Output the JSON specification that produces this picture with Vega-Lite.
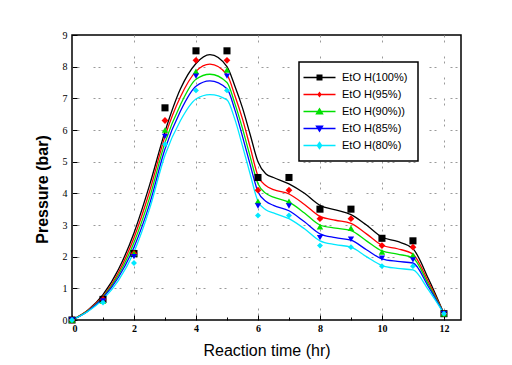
{
  "$schema": "https://vega.github.io/schema/vega-lite/v6.json",
  "width": 389,
  "height": 285,
  "autosize": {"type": "none"},
  "padding": {"left": 72, "top": 35, "right": 51, "bottom": 45},
  "background": "#ffffff",
  "config": {
    "view": {"stroke": "#000000", "strokeWidth": 1.5},
    "font": "Liberation Sans"
  },
  "datasets": {
    "pts": [
      {"s": "EtO H(100%)", "m": "square", "t": 0, "p": 0}, {"s": "EtO H(100%)", "m": "square", "t": 1, "p": 0.65}, {"s": "EtO H(100%)", "m": "square", "t": 2, "p": 2.1}, {"s": "EtO H(100%)", "m": "square", "t": 3, "p": 6.7}, {"s": "EtO H(100%)", "m": "square", "t": 4, "p": 8.5}, {"s": "EtO H(100%)", "m": "square", "t": 5, "p": 8.5}, {"s": "EtO H(100%)", "m": "square", "t": 6, "p": 4.5}, {"s": "EtO H(100%)", "m": "square", "t": 7, "p": 4.5}, {"s": "EtO H(100%)", "m": "square", "t": 8, "p": 3.5}, {"s": "EtO H(100%)", "m": "square", "t": 9, "p": 3.5}, {"s": "EtO H(100%)", "m": "square", "t": 10, "p": 2.58}, {"s": "EtO H(100%)", "m": "square", "t": 11, "p": 2.5}, {"s": "EtO H(100%)", "m": "square", "t": 12, "p": 0.2},
      {"s": "EtO H(95%)", "m": "small diamond", "t": 0, "p": 0}, {"s": "EtO H(95%)", "m": "small diamond", "t": 1, "p": 0.65}, {"s": "EtO H(95%)", "m": "small diamond", "t": 2, "p": 2.1}, {"s": "EtO H(95%)", "m": "small diamond", "t": 3, "p": 6.3}, {"s": "EtO H(95%)", "m": "small diamond", "t": 4, "p": 8.2}, {"s": "EtO H(95%)", "m": "small diamond", "t": 5, "p": 8.2}, {"s": "EtO H(95%)", "m": "small diamond", "t": 6, "p": 4.1}, {"s": "EtO H(95%)", "m": "small diamond", "t": 7, "p": 4.1}, {"s": "EtO H(95%)", "m": "small diamond", "t": 8, "p": 3.2}, {"s": "EtO H(95%)", "m": "small diamond", "t": 9, "p": 3.2}, {"s": "EtO H(95%)", "m": "small diamond", "t": 10, "p": 2.35}, {"s": "EtO H(95%)", "m": "small diamond", "t": 11, "p": 2.3}, {"s": "EtO H(95%)", "m": "small diamond", "t": 12, "p": 0.2},
      {"s": "EtO H(90%))", "m": "up triangle", "t": 0, "p": 0}, {"s": "EtO H(90%))", "m": "up triangle", "t": 1, "p": 0.6}, {"s": "EtO H(90%))", "m": "up triangle", "t": 2, "p": 2.1}, {"s": "EtO H(90%))", "m": "up triangle", "t": 3, "p": 6.0}, {"s": "EtO H(90%))", "m": "up triangle", "t": 4, "p": 7.85}, {"s": "EtO H(90%))", "m": "up triangle", "t": 5, "p": 7.9}, {"s": "EtO H(90%))", "m": "up triangle", "t": 6, "p": 3.75}, {"s": "EtO H(90%))", "m": "up triangle", "t": 7, "p": 3.75}, {"s": "EtO H(90%))", "m": "up triangle", "t": 8, "p": 2.95}, {"s": "EtO H(90%))", "m": "up triangle", "t": 9, "p": 2.9}, {"s": "EtO H(90%))", "m": "up triangle", "t": 10, "p": 2.15}, {"s": "EtO H(90%))", "m": "up triangle", "t": 11, "p": 2.05}, {"s": "EtO H(90%))", "m": "up triangle", "t": 12, "p": 0.2},
      {"s": "EtO H(85%)", "m": "down triangle", "t": 0, "p": 0}, {"s": "EtO H(85%)", "m": "down triangle", "t": 1, "p": 0.6}, {"s": "EtO H(85%)", "m": "down triangle", "t": 2, "p": 2.0}, {"s": "EtO H(85%)", "m": "down triangle", "t": 3, "p": 5.8}, {"s": "EtO H(85%)", "m": "down triangle", "t": 4, "p": 7.7}, {"s": "EtO H(85%)", "m": "down triangle", "t": 5, "p": 7.7}, {"s": "EtO H(85%)", "m": "down triangle", "t": 6, "p": 3.6}, {"s": "EtO H(85%)", "m": "down triangle", "t": 7, "p": 3.6}, {"s": "EtO H(85%)", "m": "down triangle", "t": 8, "p": 2.6}, {"s": "EtO H(85%)", "m": "down triangle", "t": 9, "p": 2.55}, {"s": "EtO H(85%)", "m": "down triangle", "t": 10, "p": 1.95}, {"s": "EtO H(85%)", "m": "down triangle", "t": 11, "p": 1.9}, {"s": "EtO H(85%)", "m": "down triangle", "t": 12, "p": 0.2},
      {"s": "EtO H(80%)", "m": "diamond", "t": 0, "p": 0}, {"s": "EtO H(80%)", "m": "diamond", "t": 1, "p": 0.55}, {"s": "EtO H(80%)", "m": "diamond", "t": 2, "p": 1.8}, {"s": "EtO H(80%)", "m": "diamond", "t": 3, "p": 5.55}, {"s": "EtO H(80%)", "m": "diamond", "t": 4, "p": 7.25}, {"s": "EtO H(80%)", "m": "diamond", "t": 5, "p": 7.25}, {"s": "EtO H(80%)", "m": "diamond", "t": 6, "p": 3.3}, {"s": "EtO H(80%)", "m": "diamond", "t": 7, "p": 3.3}, {"s": "EtO H(80%)", "m": "diamond", "t": 8, "p": 2.35}, {"s": "EtO H(80%)", "m": "diamond", "t": 9, "p": 2.3}, {"s": "EtO H(80%)", "m": "diamond", "t": 10, "p": 1.7}, {"s": "EtO H(80%)", "m": "diamond", "t": 11, "p": 1.7}, {"s": "EtO H(80%)", "m": "diamond", "t": 12, "p": 0.2}
    ],
    "curve": [
      {"s": "EtO H(100%)", "t": 0, "p": 0}, {"s": "EtO H(100%)", "t": 0.5, "p": 0.3}, {"s": "EtO H(100%)", "t": 1, "p": 0.8}, {"s": "EtO H(100%)", "t": 1.5, "p": 1.6}, {"s": "EtO H(100%)", "t": 2, "p": 2.75}, {"s": "EtO H(100%)", "t": 2.5, "p": 4.25}, {"s": "EtO H(100%)", "t": 3, "p": 5.95}, {"s": "EtO H(100%)", "t": 3.5, "p": 7.3}, {"s": "EtO H(100%)", "t": 4, "p": 8.1}, {"s": "EtO H(100%)", "t": 4.45, "p": 8.38}, {"s": "EtO H(100%)", "t": 5, "p": 8.0}, {"s": "EtO H(100%)", "t": 5.25, "p": 7.4}, {"s": "EtO H(100%)", "t": 5.5, "p": 6.7}, {"s": "EtO H(100%)", "t": 5.75, "p": 5.85}, {"s": "EtO H(100%)", "t": 6, "p": 5.0}, {"s": "EtO H(100%)", "t": 6.25, "p": 4.62}, {"s": "EtO H(100%)", "t": 6.5, "p": 4.5}, {"s": "EtO H(100%)", "t": 7, "p": 4.3}, {"s": "EtO H(100%)", "t": 7.5, "p": 4.0}, {"s": "EtO H(100%)", "t": 8, "p": 3.62}, {"s": "EtO H(100%)", "t": 8.5, "p": 3.48}, {"s": "EtO H(100%)", "t": 9, "p": 3.33}, {"s": "EtO H(100%)", "t": 9.5, "p": 3.0}, {"s": "EtO H(100%)", "t": 10, "p": 2.62}, {"s": "EtO H(100%)", "t": 10.5, "p": 2.48}, {"s": "EtO H(100%)", "t": 11, "p": 2.25}, {"s": "EtO H(100%)", "t": 11.5, "p": 1.3}, {"s": "EtO H(100%)", "t": 12, "p": 0.2},
      {"s": "EtO H(95%)", "t": 0, "p": 0}, {"s": "EtO H(95%)", "t": 0.5, "p": 0.3}, {"s": "EtO H(95%)", "t": 1, "p": 0.75}, {"s": "EtO H(95%)", "t": 1.5, "p": 1.5}, {"s": "EtO H(95%)", "t": 2, "p": 2.6}, {"s": "EtO H(95%)", "t": 2.5, "p": 4.05}, {"s": "EtO H(95%)", "t": 3, "p": 5.8}, {"s": "EtO H(95%)", "t": 3.5, "p": 7.05}, {"s": "EtO H(95%)", "t": 4, "p": 7.85}, {"s": "EtO H(95%)", "t": 4.45, "p": 8.08}, {"s": "EtO H(95%)", "t": 5, "p": 7.75}, {"s": "EtO H(95%)", "t": 5.25, "p": 7.1}, {"s": "EtO H(95%)", "t": 5.5, "p": 6.35}, {"s": "EtO H(95%)", "t": 5.75, "p": 5.45}, {"s": "EtO H(95%)", "t": 6, "p": 4.55}, {"s": "EtO H(95%)", "t": 6.25, "p": 4.25}, {"s": "EtO H(95%)", "t": 6.5, "p": 4.12}, {"s": "EtO H(95%)", "t": 7, "p": 3.98}, {"s": "EtO H(95%)", "t": 7.5, "p": 3.65}, {"s": "EtO H(95%)", "t": 8, "p": 3.27}, {"s": "EtO H(95%)", "t": 8.5, "p": 3.15}, {"s": "EtO H(95%)", "t": 9, "p": 3.05}, {"s": "EtO H(95%)", "t": 9.5, "p": 2.72}, {"s": "EtO H(95%)", "t": 10, "p": 2.36}, {"s": "EtO H(95%)", "t": 10.5, "p": 2.25}, {"s": "EtO H(95%)", "t": 11, "p": 2.08}, {"s": "EtO H(95%)", "t": 11.5, "p": 1.2}, {"s": "EtO H(95%)", "t": 12, "p": 0.2},
      {"s": "EtO H(90%))", "t": 0, "p": 0}, {"s": "EtO H(90%))", "t": 0.5, "p": 0.28}, {"s": "EtO H(90%))", "t": 1, "p": 0.72}, {"s": "EtO H(90%))", "t": 1.5, "p": 1.42}, {"s": "EtO H(90%))", "t": 2, "p": 2.45}, {"s": "EtO H(90%))", "t": 2.5, "p": 3.85}, {"s": "EtO H(90%))", "t": 3, "p": 5.6}, {"s": "EtO H(90%))", "t": 3.5, "p": 6.8}, {"s": "EtO H(90%))", "t": 4, "p": 7.6}, {"s": "EtO H(90%))", "t": 4.45, "p": 7.76}, {"s": "EtO H(90%))", "t": 5, "p": 7.5}, {"s": "EtO H(90%))", "t": 5.25, "p": 6.85}, {"s": "EtO H(90%))", "t": 5.5, "p": 6.05}, {"s": "EtO H(90%))", "t": 5.75, "p": 5.15}, {"s": "EtO H(90%))", "t": 6, "p": 4.3}, {"s": "EtO H(90%))", "t": 6.25, "p": 4.0}, {"s": "EtO H(90%))", "t": 6.5, "p": 3.88}, {"s": "EtO H(90%))", "t": 7, "p": 3.72}, {"s": "EtO H(90%))", "t": 7.5, "p": 3.38}, {"s": "EtO H(90%))", "t": 8, "p": 3.0}, {"s": "EtO H(90%))", "t": 8.5, "p": 2.9}, {"s": "EtO H(90%))", "t": 9, "p": 2.82}, {"s": "EtO H(90%))", "t": 9.5, "p": 2.5}, {"s": "EtO H(90%))", "t": 10, "p": 2.18}, {"s": "EtO H(90%))", "t": 10.5, "p": 2.08}, {"s": "EtO H(90%))", "t": 11, "p": 1.96}, {"s": "EtO H(90%))", "t": 11.5, "p": 1.12}, {"s": "EtO H(90%))", "t": 12, "p": 0.2},
      {"s": "EtO H(85%)", "t": 0, "p": 0}, {"s": "EtO H(85%)", "t": 0.5, "p": 0.27}, {"s": "EtO H(85%)", "t": 1, "p": 0.7}, {"s": "EtO H(85%)", "t": 1.5, "p": 1.35}, {"s": "EtO H(85%)", "t": 2, "p": 2.3}, {"s": "EtO H(85%)", "t": 2.5, "p": 3.65}, {"s": "EtO H(85%)", "t": 3, "p": 5.4}, {"s": "EtO H(85%)", "t": 3.5, "p": 6.6}, {"s": "EtO H(85%)", "t": 4, "p": 7.38}, {"s": "EtO H(85%)", "t": 4.45, "p": 7.55}, {"s": "EtO H(85%)", "t": 5, "p": 7.3}, {"s": "EtO H(85%)", "t": 5.25, "p": 6.65}, {"s": "EtO H(85%)", "t": 5.5, "p": 5.8}, {"s": "EtO H(85%)", "t": 5.75, "p": 4.9}, {"s": "EtO H(85%)", "t": 6, "p": 4.05}, {"s": "EtO H(85%)", "t": 6.25, "p": 3.75}, {"s": "EtO H(85%)", "t": 6.5, "p": 3.62}, {"s": "EtO H(85%)", "t": 7, "p": 3.45}, {"s": "EtO H(85%)", "t": 7.5, "p": 3.1}, {"s": "EtO H(85%)", "t": 8, "p": 2.72}, {"s": "EtO H(85%)", "t": 8.5, "p": 2.6}, {"s": "EtO H(85%)", "t": 9, "p": 2.52}, {"s": "EtO H(85%)", "t": 9.5, "p": 2.22}, {"s": "EtO H(85%)", "t": 10, "p": 1.93}, {"s": "EtO H(85%)", "t": 10.5, "p": 1.85}, {"s": "EtO H(85%)", "t": 11, "p": 1.8}, {"s": "EtO H(85%)", "t": 11.5, "p": 1.05}, {"s": "EtO H(85%)", "t": 12, "p": 0.2},
      {"s": "EtO H(80%)", "t": 0, "p": 0}, {"s": "EtO H(80%)", "t": 0.5, "p": 0.26}, {"s": "EtO H(80%)", "t": 1, "p": 0.65}, {"s": "EtO H(80%)", "t": 1.5, "p": 1.25}, {"s": "EtO H(80%)", "t": 2, "p": 2.15}, {"s": "EtO H(80%)", "t": 2.5, "p": 3.5}, {"s": "EtO H(80%)", "t": 3, "p": 5.2}, {"s": "EtO H(80%)", "t": 3.5, "p": 6.3}, {"s": "EtO H(80%)", "t": 4, "p": 6.98}, {"s": "EtO H(80%)", "t": 4.45, "p": 7.12}, {"s": "EtO H(80%)", "t": 5, "p": 6.95}, {"s": "EtO H(80%)", "t": 5.25, "p": 6.35}, {"s": "EtO H(80%)", "t": 5.5, "p": 5.5}, {"s": "EtO H(80%)", "t": 5.75, "p": 4.6}, {"s": "EtO H(80%)", "t": 6, "p": 3.75}, {"s": "EtO H(80%)", "t": 6.25, "p": 3.48}, {"s": "EtO H(80%)", "t": 6.5, "p": 3.38}, {"s": "EtO H(80%)", "t": 7, "p": 3.2}, {"s": "EtO H(80%)", "t": 7.5, "p": 2.88}, {"s": "EtO H(80%)", "t": 8, "p": 2.5}, {"s": "EtO H(80%)", "t": 8.5, "p": 2.38}, {"s": "EtO H(80%)", "t": 9, "p": 2.3}, {"s": "EtO H(80%)", "t": 9.5, "p": 2.0}, {"s": "EtO H(80%)", "t": 10, "p": 1.72}, {"s": "EtO H(80%)", "t": 10.5, "p": 1.63}, {"s": "EtO H(80%)", "t": 11, "p": 1.58}, {"s": "EtO H(80%)", "t": 11.5, "p": 0.95}, {"s": "EtO H(80%)", "t": 12, "p": 0.2}
    ]
  },
  "encoding": {
    "x": {
      "field": "t", "type": "quantitative",
      "scale": {"domain": [0, 12.55], "nice": false, "zero": false},
      "axis": {
        "title": "Reaction time (hr)",
        "values": [0, 1, 2, 3, 4, 5, 6, 7, 8, 9, 10, 11, 12],
        "format": "d",
        "labelExpr": "datum.value % 2 === 0 ? datum.label : ''",
        "domain": false,
        "grid": true,
        "gridColor": "#9a9a9a",
        "gridDash": [2, 3, 2, 14],
        "gridOpacity": {"condition": {"test": "datum.value % 2 === 1 || datum.value === 0", "value": 0}, "value": 1},
        "tickColor": "#000000",
        "tickSize": {"condition": {"test": "datum.value % 2 === 1", "value": -3}, "value": -5},
        "labelFont": "Liberation Serif", "labelFontWeight": "bold", "labelFontSize": 10, "labelColor": "#000000",
        "labelPadding": 8,
        "titleFont": "Liberation Sans", "titleFontSize": 16, "titleFontWeight": "normal", "titleColor": "#000000",
        "titlePadding": 9
      }
    },
    "y": {
      "field": "p", "type": "quantitative",
      "scale": {"domain": [0, 9], "nice": false},
      "axis": {
        "title": "Pressure (bar)",
        "values": [0, 0.5, 1, 1.5, 2, 2.5, 3, 3.5, 4, 4.5, 5, 5.5, 6, 6.5, 7, 7.5, 8, 8.5, 9],
        "format": "d",
        "labelExpr": "datum.value % 1 === 0 ? datum.label : ''",
        "domain": false,
        "grid": true,
        "gridColor": "#9a9a9a",
        "gridDash": [2, 3, 2, 14],
        "gridOpacity": {"condition": {"test": "datum.value % 1 !== 0 || datum.value === 0 || datum.value === 9", "value": 0}, "value": 1},
        "tickColor": "#000000",
        "tickSize": {"condition": {"test": "datum.value % 1 !== 0", "value": -3}, "value": -5},
        "labelFont": "Liberation Serif", "labelFontWeight": "normal", "labelFontSize": 10, "labelColor": "#000000",
        "labelPadding": 10,
        "titleFont": "Liberation Sans", "titleFontSize": 16, "titleFontWeight": "bold", "titleColor": "#000000",
        "titleX": -30, "titleY": 154, "titleBaseline": "middle", "titleAlign": "center"
      }
    },
    "color": {
      "field": "s", "type": "nominal",
      "scale": {
        "domain": ["EtO H(100%)", "EtO H(95%)", "EtO H(90%))", "EtO H(85%)", "EtO H(80%)"],
        "range": ["#000000", "#ff0000", "#00e000", "#0000ff", "#00e8ff"]
      },
      "legend": {
        "title": null,
        "orient": "none",
        "legendX": 227,
        "legendY": 27,
        "padding": 10,
        "symbolOffset": 5,
        "rowPadding": 5,
        "labelFont": "Liberation Sans",
        "labelFontSize": 11,
        "labelColor": "#000000",
        "labelOffset": 17,
        "symbolSize": 100,
        "symbolStrokeWidth": 0,
        "encode": {
          "legend": {"update": {"stroke": {"value": "#000000"}, "strokeWidth": {"value": 1.5}, "fill": {"value": "#ffffff"}}},
          "symbols": {"update": {
            "shape": {"signal": "datum.value === 'EtO H(100%)' ? 'M-3.2,-0.13H3.2V0.13H-3.2Z M-0.6,-0.6H0.6V0.6H-0.6Z' : datum.value === 'EtO H(95%)' ? 'M-3.2,-0.13H3.2V0.13H-3.2Z M0,-0.6L0.45,0L0,0.6L-0.45,0Z' : datum.value === 'EtO H(90%))' ? 'M-3.2,-0.13H3.2V0.13H-3.2Z M0,-0.8L0.85,0.6H-0.85Z' : datum.value === 'EtO H(85%)' ? 'M-3.2,-0.13H3.2V0.13H-3.2Z M0,0.8L-0.85,-0.6H0.85Z' : 'M-3.2,-0.13H3.2V0.13H-3.2Z M0,-0.85L0.6,0L0,0.85L-0.6,0Z'"},
            "fill": {"scale": "color", "field": "value"},
            "stroke": {"value": "transparent"},
            "opacity": {"value": 1},
            "fillOpacity": {"value": 1}
          }}
        }
      }
    }
  },
  "layer": [
    {
      "data": {"name": "curve"},
      "mark": {"type": "line", "interpolate": "monotone", "strokeWidth": 1.3},
      "encoding": {}
    },
    {
      "data": {"name": "pts"},
      "mark": {"type": "point", "filled": true, "opacity": 1},
      "encoding": {
        "shape": {
          "field": "m", "type": "nominal", "legend": null,
          "scale": {
            "domain": ["square", "small diamond", "up triangle", "down triangle", "diamond"],
            "range": ["square", "diamond", "triangle-up", "triangle-down", "diamond"]
          }
        },
        "size": {
          "field": "m", "type": "nominal", "legend": null,
          "scale": {
            "domain": ["square", "small diamond", "up triangle", "down triangle", "diamond"],
            "range": [50, 35, 60, 60, 70]
          }
        }
      }
    }
  ]
}
